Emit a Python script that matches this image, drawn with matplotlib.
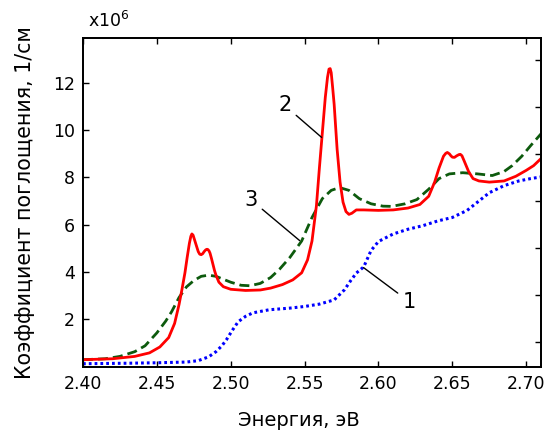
import matplotlib
matplotlib.use('Agg')
import matplotlib.pyplot as plt

# curve 1 (blue, dotted)
energy_1 = [2.400, 2.430, 2.450, 2.470, 2.478, 2.485, 2.490, 2.494, 2.497, 2.501,
            2.505, 2.510, 2.515, 2.526, 2.540, 2.550, 2.560, 2.570, 2.577, 2.581,
            2.585, 2.590, 2.595, 2.600, 2.610, 2.620, 2.630, 2.640, 2.650, 2.660,
            2.668, 2.675, 2.685, 2.695, 2.703, 2.710]
alpha_1 = [0.09, 0.11, 0.13, 0.16, 0.22, 0.38, 0.60, 0.85, 1.10, 1.50,
           1.87, 2.10, 2.25, 2.38, 2.45, 2.52, 2.62, 2.80, 3.23, 3.60,
           3.94, 4.20, 4.90, 5.28, 5.60, 5.80, 5.95, 6.15, 6.30, 6.60,
           7.00, 7.35, 7.65, 7.85, 7.95, 8.02]

# curve 2 (red, solid)
energy_2 = [2.400, 2.420, 2.435, 2.445, 2.452, 2.458, 2.462, 2.465, 2.467, 2.469,
            2.4705, 2.472, 2.473, 2.4737, 2.4745, 2.4755, 2.477, 2.478, 2.479, 2.480,
            2.481, 2.482, 2.483, 2.4838, 2.4845, 2.4853, 2.486, 2.487, 2.488, 2.489,
            2.490, 2.492, 2.495, 2.500, 2.510, 2.520, 2.527, 2.535, 2.542, 2.548,
            2.552, 2.555, 2.558, 2.560, 2.562, 2.564, 2.5655, 2.5665, 2.5673, 2.568,
            2.569, 2.570, 2.572, 2.574, 2.576, 2.578, 2.580, 2.582, 2.585, 2.590,
            2.600, 2.610, 2.620, 2.628, 2.634, 2.638, 2.641, 2.644, 2.6455, 2.6466,
            2.648, 2.649, 2.650, 2.6514, 2.653, 2.6545, 2.6554, 2.6565, 2.658, 2.661,
            2.664, 2.668, 2.675, 2.685, 2.693, 2.700, 2.705, 2.710]
alpha_2 = [0.26, 0.30, 0.40, 0.55, 0.80, 1.20, 1.80, 2.60, 3.25, 3.95,
           4.60, 5.20, 5.50, 5.60, 5.55, 5.35, 5.05, 4.85, 4.74, 4.72,
           4.76, 4.85, 4.92, 4.95, 4.94, 4.88, 4.78, 4.55, 4.30, 4.05,
           3.85, 3.55, 3.36, 3.25, 3.20, 3.22, 3.30, 3.45, 3.65, 3.95,
           4.50, 5.30, 6.80, 8.40, 9.90, 11.40, 12.25, 12.60, 12.62, 12.45,
           11.80, 11.10, 9.20, 7.80, 6.95, 6.55, 6.43, 6.48, 6.62, 6.62,
           6.60, 6.62, 6.70, 6.85, 7.20, 7.80, 8.40, 8.90, 9.02, 9.06,
           9.00, 8.92, 8.86, 8.85, 8.92, 8.97, 8.98, 8.92, 8.70, 8.25,
           7.95, 7.85, 7.80, 7.85, 8.05, 8.30, 8.50, 8.80]

# curve 3 (green, dashed)
energy_3 = [2.400, 2.415, 2.425, 2.435, 2.442, 2.450, 2.456, 2.460, 2.465, 2.470,
            2.475, 2.480, 2.485, 2.490, 2.500, 2.507, 2.513, 2.520, 2.527, 2.533,
            2.540, 2.548, 2.555, 2.562, 2.568, 2.5736, 2.580, 2.587, 2.595, 2.603,
            2.609, 2.618, 2.626, 2.634, 2.641, 2.648, 2.657, 2.667, 2.677, 2.685,
            2.6905, 2.697, 2.703, 2.710]
alpha_3 = [0.26, 0.30, 0.40, 0.60, 0.85, 1.40, 1.90, 2.30, 2.90, 3.35,
           3.62, 3.80, 3.85, 3.80, 3.55, 3.42, 3.40, 3.50, 3.75, 4.10,
           4.60, 5.30, 6.30, 7.10, 7.45, 7.57, 7.45, 7.10, 6.88, 6.78,
           6.77, 6.88, 7.06, 7.50, 7.95, 8.15, 8.20, 8.15, 8.08, 8.25,
           8.50, 8.90, 9.35, 9.85]

x_ticks = [2.40, 2.45, 2.50, 2.55, 2.60, 2.65, 2.70]
y_ticks = [2, 4, 6, 8, 10, 12]
y_ticks_right = [1, 3, 5, 7, 9, 11, 13]

# curve labels: (text, text position, point on curve)
labels = [('1', (2.6209, 2.72), (2.5899, 4.17)),
          ('2', (2.5365, 11.06), (2.5615, 9.70)),
          ('3', (2.5135, 7.06), (2.5466, 5.32))]

fig = plt.figure(figsize=(5.57, 4.32), dpi=100)
ax = fig.add_axes([83/557, 1 - 367/432, 458/557, (367 - 38)/432])

ax.plot(energy_1, alpha_1, color='#0000ff', lw=2.2, linestyle=(0, (0.9, 1.0)))
ax.plot(energy_3, alpha_3, color='#0d5a0d', lw=2.0, linestyle=(0, (3.6, 1.8)))
ax.plot(energy_2, alpha_2, color='#ff0000', lw=2.0)

for txt, pos, pt in labels:
    ax.annotate(txt, xy=pt, xytext=pos, ha='center', va='center', fontsize=15,
                arrowprops=dict(arrowstyle='-', color='black', lw=1.0,
                                shrinkA=2, shrinkB=0))

ax.set_xlim(2.40, 2.71)
ax.set_ylim(-0.05, 13.92)
ax.set_xticks(x_ticks)
ax.set_xticklabels([f'{v:.2f}' for v in x_ticks])
ax.set_yticks(y_ticks)
ax.tick_params(direction='in', length=4, width=1, labelsize=12.5,
               top=True, right=False, pad=6)
for s in ax.spines.values():
    s.set_linewidth(1.3)

ax2 = ax.twinx()
ax2.set_ylim(ax.get_ylim())
ax2.set_yticks(y_ticks_right)
ax2.tick_params(direction='in', length=4, width=1, labelright=False)
for s in ax2.spines.values():
    s.set_linewidth(1.3)

ax.set_xlabel('Энергия, эВ', fontsize=14)
ax.xaxis.set_label_coords((299 - 83)/458, -(411 - 367)/329)
ax.set_ylabel('Коэффициент поглощения, 1/см', fontsize=14.8)
ax.yaxis.set_label_coords(-(83 - 35)/458, 0.5)

fig.text(88/557, 1 - 27/432, 'x10$^6$', fontsize=12.5, ha='left', va='baseline')

fig.savefig('out.png', dpi=100)
